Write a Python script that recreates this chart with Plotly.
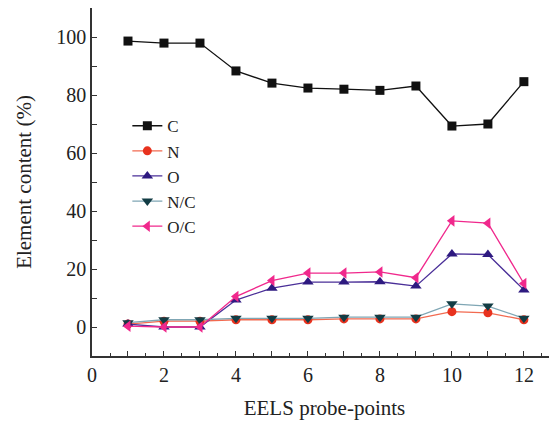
import plotly.graph_objects as go

x_points = [1, 2, 3, 4, 5, 6, 7, 8, 9, 10, 11, 12]
C = [98.6, 97.9, 97.9, 88.3, 84.1, 82.4, 82.0, 81.6, 83.1, 69.3, 70.0, 84.6]
N = [1.0, 2.0, 2.0, 2.5, 2.5, 2.5, 2.8, 2.8, 2.8, 5.3, 4.9, 2.5]
O = [1.0, 0.0, 0.0, 9.3, 13.4, 15.5, 15.5, 15.6, 14.1, 25.2, 25.0, 12.8]
NC = [1.5, 2.5, 2.5, 3.0, 3.0, 3.0, 3.4, 3.4, 3.4, 8.0, 7.2, 3.0]
OC = [0.3, 0.0, 0.0, 10.5, 16.0, 18.6, 18.6, 19.0, 17.0, 36.6, 35.8, 15.0]

x_tickvals = list(range(0, 14))
x_ticktext = [str(v) if v % 2 == 0 else "" for v in x_tickvals]
y_tickvals = list(range(-10, 111, 10))
y_ticktext = [str(v) if v % 20 == 0 and 0 <= v <= 100 else "" for v in y_tickvals]

series = [
    ("C", C, "#111111", "#111111", "square", 9),
    ("N", N, "#f26a50", "#e8321e", "circle", 9),
    ("O", O, "#4a2f98", "#2e1a80", "triangle-up", 10),
    ("N/C", NC, "#7fa6b4", "#123c44", "triangle-down", 10),
    ("O/C", OC, "#f0288c", "#f0288c", "triangle-left", 10),
]

fig = go.Figure()
for name, vals, lc, mc, sym, ms in series:
    fig.add_trace(go.Scatter(
        x=x_points, y=vals, name=name, mode="lines+markers",
        line=dict(color=lc, width=1.3),
        marker=dict(symbol=sym, size=ms, color=mc),
    ))

font = "Liberation Serif, Times New Roman, serif"
fig.update_layout(
    width=549, height=419,
    margin=dict(l=84, r=0, t=0, b=71, pad=0),
    paper_bgcolor="white", plot_bgcolor="white",
    font=dict(family=font, size=20, color="#222"),
    showlegend=True,
    legend=dict(x=0.076, y=0.712, xanchor="left", yanchor="top",
                bgcolor="rgba(0,0,0,0)", font=dict(family=font, size=17, color="#222"),
                itemwidth=30, tracegroupgap=0),
    xaxis=dict(range=[0, 12.92], tickvals=x_tickvals, ticktext=x_ticktext,
               ticks="inside", ticklen=5, tickwidth=1.2, tickcolor="#333",
               minor=dict(dtick=0.5, ticks="inside", ticklen=3, tickcolor="#333"),
               showline=True, linecolor="#333", linewidth=1.5, mirror=True,
               showgrid=False, zeroline=False, automargin=False,
               title=dict(text="EELS probe-points", standoff=16, font=dict(size=21)),
               tickfont=dict(size=20)),
    yaxis=dict(range=[-10, 110], tickvals=y_tickvals, ticktext=y_ticktext,
               ticks="inside", ticklen=5, tickwidth=1.2, tickcolor="#333",
               showline=True, linecolor="#333", linewidth=1.5,
               showgrid=False, zeroline=False, automargin=False,
               title=dict(text="Element content (%)", standoff=19, font=dict(size=21)),
               tickfont=dict(size=20)),
)

fig.write_html("out.html")
